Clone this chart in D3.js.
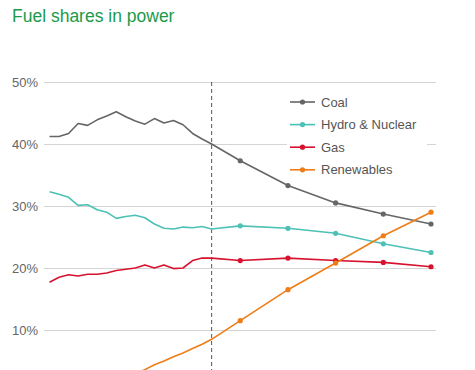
<!DOCTYPE html>
<html><head><meta charset="utf-8">
<script src="https://cdn.jsdelivr.net/npm/d3@7"></script>
<style>
html,body{margin:0;padding:0;background:#fff;}
svg{display:block;font-family:"Liberation Sans",Arial,sans-serif;}
</style></head>
<body>
<svg id="chart" width="475" height="370"></svg>
<script>
const histYears = d3.range(2000, 2018);
const projYears = [2020, 2025, 2030, 2035, 2040];
const seriesNames = ["Coal", "Hydro & Nuclear", "Gas", "Renewables"];
const seriesColors = ["#666666", "#4dc1b6", "#d7122f", "#ee7d18"];
const coalHist = [41.2,41.2,41.7,43.3,43.0,43.9,44.5,45.2,44.4,43.7,43.2,44.1,43.4,43.8,43.1,41.7,40.8,40.0];
const coalProj = [37.3,33.3,30.5,28.7,27.1];
const hydroHist = [32.3,31.9,31.4,30.1,30.2,29.4,29.0,28.0,28.3,28.5,28.1,27.1,26.4,26.3,26.6,26.5,26.7,26.3];
const hydroProj = [26.8,26.4,25.6,23.9,22.5];
const gasHist = [17.7,18.5,18.9,18.7,19.0,19.0,19.2,19.6,19.8,20.0,20.5,20.0,20.5,19.9,20.0,21.2,21.6,21.6];
const gasProj = [21.2,21.6,21.2,20.9,20.2];
const renewHist = [1.5,1.6,1.7,1.8,1.9,2.1,2.3,2.5,2.7,3.0,3.6,4.4,5.0,5.7,6.3,7.0,7.7,8.5];
const renewProj = [11.5,16.5,20.8,25.2,29.0];
const yTicks = [10, 20, 30, 40, 50];
const dividerYear = 2017;
const title = "Fuel shares in power";

const hist = [coalHist, hydroHist, gasHist, renewHist];
const proj = [coalProj, hydroProj, gasProj, renewProj];

const svg = d3.select("#chart");
const x = d3.scaleLinear().domain([2000, 2040]).range([49.5, 431]);
const y = d3.scaleLinear().domain([0, 50]).range([392, 82]);
const gridX0 = 44, gridX1 = 436;

svg.append("text").attr("x", 12).attr("y", 22)
  .attr("fill", "#1a9a4b").attr("font-size", 17.5).text(title);

const grid = svg.append("g");
yTicks.forEach(t => {
  grid.append("line").attr("x1", gridX0).attr("x2", gridX1)
    .attr("y1", Math.round(y(t)) + 0.5).attr("y2", Math.round(y(t)) + 0.5)
    .attr("stroke", "#d4d4d4").attr("stroke-width", 1.2);
  grid.append("text").attr("x", 38).attr("y", y(t) + 4.5)
    .attr("text-anchor", "end").attr("fill", "#666").attr("font-size", 13)
    .text(t + "%");
});

// legend background (interrupts grid)
const legendX = 290, legendY0 = 102, legendDy = 22.6;
svg.append("rect").attr("x", 287).attr("y", 87).attr("width", 140).attr("height", 95).attr("fill", "#fff");

svg.append("line").attr("x1", x(dividerYear)).attr("x2", x(dividerYear))
  .attr("y1", 82).attr("y2", 370)
  .attr("stroke", "#555").attr("stroke-width", 1).attr("stroke-dasharray", "4,3");

const line = d3.line().x(d => x(d[0])).y(d => y(d[1]));
seriesNames.forEach((name, i) => {
  const pts = histYears.map((yr, j) => [yr, hist[i][j]])
    .concat(projYears.map((yr, j) => [yr, proj[i][j]]));
  svg.append("path").datum(pts).attr("d", line)
    .attr("fill", "none").attr("stroke", seriesColors[i])
    .attr("stroke-width", 1.6).attr("stroke-linejoin", "round");
  svg.selectAll(null).data(projYears.map((yr, j) => [yr, proj[i][j]])).enter()
    .append("circle").attr("cx", d => x(d[0])).attr("cy", d => y(d[1]))
    .attr("r", 2.6).attr("fill", seriesColors[i]);
});

seriesNames.forEach((name, i) => {
  const ly = legendY0 + i * legendDy;
  svg.append("line").attr("x1", legendX).attr("x2", legendX + 25)
    .attr("y1", ly).attr("y2", ly).attr("stroke", seriesColors[i]).attr("stroke-width", 1.6);
  svg.append("circle").attr("cx", legendX + 12.5).attr("cy", ly).attr("r", 2.6).attr("fill", seriesColors[i]);
  svg.append("text").attr("x", legendX + 31).attr("y", ly + 4.5)
    .attr("fill", "#555").attr("font-size", 13).text(name);
});
</script>
</body></html>
